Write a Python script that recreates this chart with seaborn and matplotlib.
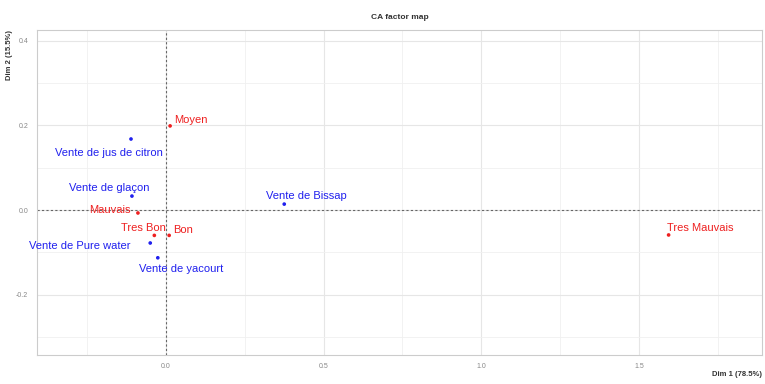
import matplotlib
matplotlib.use("Agg")
import matplotlib.pyplot as plt
import seaborn as sns
import pandas as pd
from matplotlib.ticker import MultipleLocator

# Correspondence analysis coordinates (Dim 1, Dim 2)
row_names = ["Vente de jus de citron", "Vente de glaçon", "Vente de Pure water",
             "Vente de yacourt", "Vente de Bissap"]
row_dim1 = [-0.111, -0.108, -0.050, -0.026, 0.375]
row_dim2 = [0.168, 0.033, -0.078, -0.113, 0.014]

col_names = ["Moyen", "Mauvais", "Tres Bon", "Bon", "Tres Mauvais"]
col_dim1 = [0.013, -0.089, -0.037, 0.010, 1.594]
col_dim2 = [0.199, -0.007, -0.060, -0.060, -0.059]

# label offsets in points (dx, dy, ha)
row_offsets = [(-16, -10, "center"), (-16, 6, "center"), (-14, -2, "right"),
               (17, -8, "center"), (16, 6, "center")]
col_offsets = [(3, 4, "left"), (-5, 2, "right"), (-8, 5, "center"),
               (3, 4, "left"), (23, 5, "center")]

df = pd.DataFrame({
    "name": row_names + col_names,
    "Dim1": row_dim1 + col_dim1,
    "Dim2": row_dim2 + col_dim2,
    "type": ["row"] * len(row_names) + ["col"] * len(col_names),
})

sns.set_theme(style="whitegrid")
plt.rcParams["font.family"] = ["Liberation Sans", "DejaVu Sans"]
fig = plt.figure(figsize=(7.65, 3.84), dpi=100)
ax = fig.add_axes([0.048, 0.0755, 0.948, 0.8465])

palette = {"row": "#2020ee", "col": "#ee2020"}
sns.scatterplot(data=df, x="Dim1", y="Dim2", hue="type", palette=palette,
                s=7, edgecolor="none", legend=False, ax=ax)

for name, x, y, (dx, dy, ha) in zip(row_names, row_dim1, row_dim2, row_offsets):
    ax.annotate(name, (x, y), xytext=(dx, dy), textcoords="offset points",
                ha=ha, va="center", color=palette["row"], fontsize=8)
for name, x, y, (dx, dy, ha) in zip(col_names, col_dim1, col_dim2, col_offsets):
    ax.annotate(name, (x, y), xytext=(dx, dy), textcoords="offset points",
                ha=ha, va="center", color=palette["col"], fontsize=8)

ax.axhline(0, color="#666666", lw=0.8, ls=(0, (2, 2)), zorder=1)
ax.axvline(0, color="#666666", lw=0.8, ls=(0, (2, 2)), zorder=1)

ax.set_xlim(-0.41, 1.89)
ax.set_ylim(-0.343, 0.426)
ax.xaxis.set_major_locator(MultipleLocator(0.5))
ax.xaxis.set_minor_locator(MultipleLocator(0.25))
ax.yaxis.set_major_locator(MultipleLocator(0.2))
ax.yaxis.set_minor_locator(MultipleLocator(0.1))
ax.set_xticks([0.0, 0.5, 1.0, 1.5])
ax.set_xticklabels(["0.0", "0.5", "1.0", "1.5"])
ax.set_yticks([-0.2, 0.0, 0.2, 0.4])
ax.set_yticklabels(["-0.2", "0.0", "0.2", "0.4"])
ax.grid(which="major", color="#e6e6e6", lw=0.8)
ax.grid(which="minor", color="#f0f0f0", lw=0.6)
ax.tick_params(axis="both", labelsize=5, colors="#888888", length=0, pad=6)

for sp in ax.spines.values():
    sp.set_visible(True)
    sp.set_color("#cccccc")
    sp.set_linewidth(0.8)

ax.set_xlabel("")
ax.set_ylabel("")
ax.set_title("CA factor map", fontsize=6, fontweight="bold", color="#333333", pad=8)
fig.text(0.996, 0.015, "Dim 1 (78.5%)", ha="right", va="bottom",
         fontsize=5.5, fontweight="bold", color="#333333")
fig.text(0.012, 0.922, "Dim 2 (15.5%)", ha="center", va="top", rotation=90,
         fontsize=5.5, fontweight="bold", color="#333333")

fig.savefig("out.png", dpi=100)
